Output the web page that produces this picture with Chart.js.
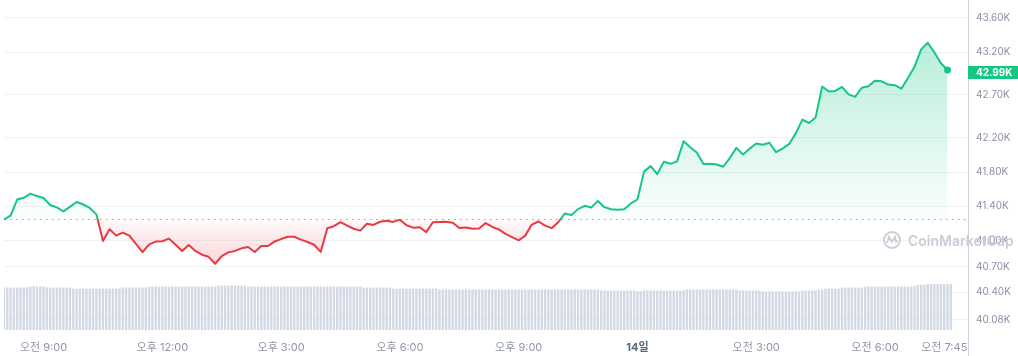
<!DOCTYPE html>
<html>
<head>
<meta charset="utf-8">
<script src="https://cdn.jsdelivr.net/npm/chart.js@4.4.1/dist/chart.umd.min.js"></script>
<style>
html,body{margin:0;padding:0;background:#fff;}
#wrap{width:1018px;height:356px;position:relative;}
</style>
</head>
<body>
<div id="wrap"><canvas id="c" width="1018" height="356"></canvas></div>
<script>
// ---- data (BTC price, 13th 08:00 -> 14th 07:50, 10-min steps; volume 5-min steps) ----
const startHour = 8;          // hours since 00:00 on the 13th
const priceStepMin = 10;
const volumeStepMin = 5;

const prices = [
41.250,41.293,41.481,41.501,41.550,41.521,41.498,41.417,41.389,41.342,
41.395,41.452,41.423,41.383,41.308,40.997,41.135,41.060,41.095,41.060,
40.965,40.868,40.958,40.991,40.995,41.025,40.953,40.882,40.951,40.882,
40.838,40.813,40.732,40.822,40.865,40.882,40.912,40.928,40.870,40.939,
40.939,40.991,41.020,41.047,41.047,41.014,40.986,40.954,40.870,41.147,
41.170,41.218,41.176,41.140,41.118,41.199,41.185,41.222,41.234,41.220,
41.246,41.181,41.153,41.158,41.101,41.216,41.219,41.223,41.210,41.149,
41.155,41.140,41.143,41.207,41.162,41.132,41.081,41.043,41.005,41.060,
41.189,41.225,41.176,41.147,41.216,41.319,41.300,41.369,41.408,41.389,
41.463,41.392,41.368,41.362,41.368,41.435,41.481,41.806,41.870,41.777,
41.922,41.897,41.925,42.160,42.091,42.028,41.895,41.899,41.889,41.863,
41.964,42.083,42.005,42.074,42.134,42.120,42.143,42.033,42.074,42.129,
42.252,42.413,42.373,42.436,42.798,42.741,42.747,42.793,42.706,42.678,
42.784,42.801,42.865,42.859,42.821,42.814,42.773,42.897,43.029,43.231,
43.308,43.196,43.070,42.990
];

const volumes = [
430,430,430,430,430,430,430,430,
440,447,440,440,440,
430,430,430,430,430,430,430,430,
420,420,420,420,420,420,420,420,420,420,420,420,420,420,420,
432,430,430,430,430,430,430,430,
440,440,440,440,440,440,440,440,440,440,440,440,440,440,440,440,440,440,440,440,440,
450,450,450,450,450,450,450,450,450,
440,440,440,440,440,440,440,440,440,440,440,440,440,440,440,440,440,440,440,440,440,440,440,440,440,440,440,440,440,440,440,440,440,440,440,
430,430,430,430,430,430,430,430,430,
420,420,420,420,420,420,420,420,420,420,420,420,420,420,
410,410,410,410,410,410,410,410,410,410,410,410,410,410,410,410,410,410,410,410,410,410,410,410,410,410,410,410,410,410,410,410,410,410,410,410,410,410,410,410,410,410,410,410,410,410,410,410,410,
400,400,400,400,400,400,400,400,400,400,400,
393,393,
400,400,400,400,400,400,400,400,400,400,400,400,400,
410,410,410,410,410,410,410,410,410,410,410,410,410,410,410,410,
400,400,400,400,400,400,400,
390,390,390,390,390,390,390,390,390,390,390,390,
400,400,400,400,400,
410,410,
420,420,420,420,420,
430,430,430,430,430,430,430,
440,440,440,440,440,440,440,440,440,440,440,440,440,440,440,
447,
457,457,457,
467,467,467,467,467,467,467,467
];

const xTickValues = [9, 12, 15, 18, 21, 24, 27, 30, 31.75];
const xTickLabels = ['오전 9:00','오후 12:00','오후 3:00','오후 6:00','오후 9:00','14일','오전 3:00','오전 6:00','오전 7:45'];
const dayTickValue = 24;
const yTickValues = [40.08, 40.40, 40.70, 41.00, 41.40, 41.80, 42.20, 42.70, 43.20, 43.60];

// ---- styling ----
const green = '#16c784', red = '#ea3943';
const fontFamily = 'Inter, "Noto Sans CJK KR", "Noto Sans", sans-serif';
const baseline = prices[0];
const lastPrice = prices[prices.length - 1];

const priceData = prices.map((p, i) => ({x: startHour + i * priceStepMin / 60, y: p}));
const volData = volumes.map((v, i) => ({x: startHour + i * volumeStepMin / 60, y: v}));

function lineColor(ctx) {
  const c = ctx.chart, a = c.chartArea;
  if (!a) return green;
  const yb = c.scales.y.getPixelForValue(baseline);
  const f = Math.min(1, Math.max(0, (yb - a.top) / (a.bottom - a.top)));
  const g = c.ctx.createLinearGradient(0, a.top, 0, a.bottom);
  g.addColorStop(0, green); g.addColorStop(f, green);
  g.addColorStop(f, red); g.addColorStop(1, red);
  return g;
}

function fillOption(ctx) {
  const c = ctx.chart, a = c.chartArea;
  if (!a) return {target: {value: baseline}, above: 'rgba(22,199,132,0.15)', below: 'rgba(234,57,67,0.1)'};
  const ys = c.scales.y;
  const yb = ys.getPixelForValue(baseline);
  const yTop = ys.getPixelForValue(Math.max(...prices));
  const yBot = ys.getPixelForValue(Math.min(...prices));
  const ga = c.ctx.createLinearGradient(0, yTop, 0, yb);
  ga.addColorStop(0, 'rgba(22,199,132,0.30)');
  ga.addColorStop(1, 'rgba(22,199,132,0.02)');
  const gb = c.ctx.createLinearGradient(0, yb, 0, yBot);
  gb.addColorStop(0, 'rgba(234,57,67,0.03)');
  gb.addColorStop(1, 'rgba(234,57,67,0.20)');
  return {target: {value: baseline}, above: ga, below: gb};
}

const decor = {
  id: 'decor',
  beforeDatasetsDraw(chart) {
    const {ctx, chartArea: a, scales: {y}} = chart;
    const yb = Math.round(y.getPixelForValue(baseline)) + 0.5;
    ctx.save();
    ctx.strokeStyle = 'rgba(128,138,157,0.8)';
    ctx.lineWidth = 1;
    ctx.setLineDash([1.5, 4.5]);
    ctx.beginPath(); ctx.moveTo(a.left, yb); ctx.lineTo(a.right, yb); ctx.stroke();
    ctx.restore();
  },
  afterDraw(chart) {
    const {ctx, chartArea: a, scales: {y}} = chart;
    const W = chart.width, H = chart.height;
    ctx.save();
    // right axis border
    ctx.strokeStyle = '#cfd4dc'; ctx.lineWidth = 1;
    ctx.beginPath(); ctx.moveTo(a.right + 0.5, 0); ctx.lineTo(a.right + 0.5, H); ctx.stroke();
    // watermark
    const wx = a.right - 76, wy = a.top + 236;
    ctx.strokeStyle = '#c8cdd6'; ctx.fillStyle = '#c8cdd6'; ctx.lineWidth = 1.8;
    ctx.beginPath(); ctx.arc(wx, wy, 8, 0, Math.PI * 2); ctx.stroke();
    ctx.beginPath();
    ctx.moveTo(wx - 5, wy + 3); ctx.lineTo(wx - 3, wy - 3); ctx.lineTo(wx, wy + 2);
    ctx.lineTo(wx + 3, wy - 3); ctx.lineTo(wx + 4, wy + 2); ctx.lineTo(wx + 6, wy + 1);
    ctx.stroke();
    ctx.font = '600 14px ' + fontFamily;
    ctx.textBaseline = 'alphabetic'; ctx.textAlign = 'left';
    ctx.fillText('CoinMarketCap', wx + 16, wy + 6);
    // current price badge
    const py = y.getPixelForValue(lastPrice);
    ctx.fillStyle = green;
    ctx.fillRect(a.right, Math.round(py - 4), W - a.right, 13);
    ctx.fillStyle = '#ffffff';
    ctx.font = 'bold 10px ' + fontFamily;
    ctx.textBaseline = 'middle';
    ctx.fillText(lastPrice.toFixed(2) + 'K', a.right + 8, Math.round(py - 4) + 6.8);
    ctx.restore();
  }
};

new Chart(document.getElementById('c'), {
  type: 'line',
  data: {
    datasets: [
      {
        type: 'line',
        data: priceData,
        yAxisID: 'y',
        order: 1,
        borderColor: lineColor,
        borderWidth: 2,
        borderJoinStyle: 'round',
        tension: 0,
        fill: fillOption,
        pointRadius: ctx => ctx.dataIndex === prices.length - 1 ? 3.5 : 0,
        pointBackgroundColor: green,
        pointBorderWidth: 0
      },
      {
        type: 'bar',
        data: volData,
        yAxisID: 'vol',
        order: 2,
        backgroundColor: '#d3d9e4',
        barPercentage: 1,
        categoryPercentage: 0.72
      }
    ]
  },
  options: {
    responsive: false,
    animation: false,
    events: [],
    layout: {padding: 0},
    plugins: {legend: {display: false}, tooltip: {enabled: false}},
    scales: {
      x: {
        type: 'linear',
        offset: false,
        min: startHour,
        max: 32.35,
        afterBuildTicks: s => { s.ticks = xTickValues.map(v => ({value: v})); },
        afterFit: s => { s.height = 26; s.paddingLeft = 0; s.paddingRight = 0; },
        grid: {display: false, offset: false},
        border: {display: false},
        ticks: {
          autoSkip: false, maxRotation: 0, minRotation: 0, padding: 3,
          callback: (v, i) => xTickLabels[i],
          font: ctx => ({family: fontFamily, size: 11, weight: (ctx.tick && ctx.tick.value === dayTickValue) ? 'bold' : 'normal'}),
          color: ctx => (ctx.tick && ctx.tick.value === dayTickValue) ? '#58667e' : '#8f96a5'
        }
      },
      y: {
        position: 'right',
        min: 39.96,
        max: 43.76,
        afterBuildTicks: s => { s.ticks = yTickValues.map(v => ({value: v})); },
        afterFit: s => { s.width = 50; s.paddingTop = 0; s.paddingBottom = 0; },
        grid: {color: '#eff2f5', drawTicks: false},
        border: {display: false},
        ticks: {
          padding: 8,
          callback: v => v.toFixed(2) + 'K',
          font: {family: fontFamily, size: 10},
          color: '#8a91a3'
        }
      },
      vol: {display: false, min: 0, max: 3300}
    }
  },
  plugins: [decor]
});
</script>
</body>
</html>
